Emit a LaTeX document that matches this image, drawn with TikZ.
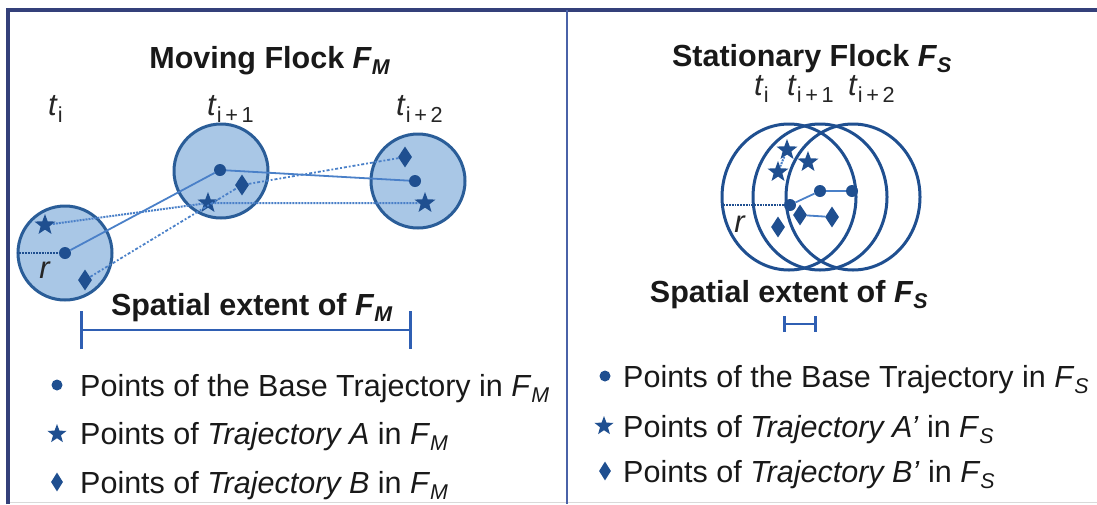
\documentclass[tikz,border=0pt]{standalone}
\usepackage{fontspec}
\setmainfont{Liberation Sans}
\usetikzlibrary{shapes.geometric,arrows.meta}
\definecolor{framecol}{RGB}{52,64,122}
\definecolor{divcol}{RGB}{74,98,168}
\definecolor{fillcol}{RGB}{169,199,230}
\definecolor{ringcol}{RGB}{42,93,152}
\definecolor{markcol}{RGB}{31,79,144}
\definecolor{trajcol}{RGB}{74,128,200}
\definecolor{extcol}{RGB}{47,95,179}
\newcommand\flocksub[2]{\textit{#1}\textsubscript{\textit{#2}}}
\newcommand\tlab[1]{\textit{t}\textsubscript{#1}}
\tikzset{
  flock/.style={circle, draw=ringcol, line width=3pt, fill=fillcol, minimum size=94pt, inner sep=0},
  ring/.style={ellipse, draw=markcol, line width=3pt, minimum width=134pt, minimum height=146pt, inner sep=0},
  basept/.style={circle, fill=markcol, inner sep=0, minimum size=12pt},
  starpt/.style={star, star points=5, star point ratio=2.4, fill=markcol, inner sep=0, minimum size=22pt},
  diapt/.style={diamond, fill=markcol, inner sep=0, minimum width=14pt, minimum height=21pt},
  basepath/.style={draw=trajcol, line width=1.8pt},
  Apath/.style={draw=trajcol, line width=2pt, densely dotted},
  Bpath/.style={draw=trajcol, line width=1.8pt, dash dot},
  rline/.style={draw=markcol, line width=1.8pt, densely dotted},
  extent/.style={draw=extcol, line width=2.8pt},
  title/.style={font=\fontsize{30.5}{34}\selectfont\bfseries, text=black!90, inner sep=0},
  tname/.style={font=\fontsize{31}{34}\selectfont, text=black!85, inner sep=0},
  legtext/.style={font=\fontsize{30.5}{34}\selectfont, text=black!90, inner sep=0, anchor=base west}
}
\begin{document}
\begin{tikzpicture}[x=1pt,y=-1pt]
  \useasboundingbox (0,0) rectangle (1097,504);
  % frame
  \draw[black!15, line width=1pt] (8,502) -- (1097,502);
  \draw[framecol, line width=3.5pt] (8,504) -- (8,10) -- (1097,10);
  \draw[divcol, line width=2pt] (567,10) -- (567,504);

  % moving flock
  \node[title, anchor=base] (movtitle) at (270,68) {Moving Flock \flocksub{F}{M}};
  \node[tname, anchor=base west] (tm1) at (48,115) {\tlab{i}};
  \node[tname, anchor=base west] (tm2) at (207,115) {\tlab{i\,+\,1}};
  \node[tname, anchor=base west] (tm3) at (396,115) {\tlab{i\,+\,2}};
  \node[flock] (flock1) at (65,253) {};
  \node[flock] (flock2) at (221,171) {};
  \node[flock] (flock3) at (418,181) {};
  \node[basept] (base1) at (65,253) {};
  \node[basept] (base2) at (220,170) {};
  \node[basept] (base3) at (415,181) {};
  \node[starpt] (starA1) at (45,225) {};
  \node[starpt] (starA2) at (208,203) {};
  \node[starpt] (starA3) at (425,203) {};
  \node[diapt] (diaB1) at (85,280) {};
  \node[diapt] (diaB2) at (242,185) {};
  \node[diapt] (diaB3) at (405,157) {};
  \draw[basepath] (base1) -- (base2) -- (base3);
  \draw[Apath] (starA1) -- (starA2) -- (starA3);
  \draw[Bpath] (diaB1) -- (diaB2) -- (diaB3);
  \coordinate (rM) at (flock1.west |- base1);
  \draw[rline] (rM) -- (base1);
  \node[tname] (rm) at (45,270) {\textit{r}};
  \node[title, anchor=base] (movext) at (252,315) {Spatial extent of \flocksub{F}{M}};
  \coordinate (extL1) at (80,330);
  \coordinate (extR1) at (412,330);
  \draw[extent, {Bar[width=38pt]}-{Bar[width=38pt]}] (extL1) -- (extR1);

  % legend, moving
  \node[basept, minimum size=11pt] (legBase1) at (57,385) {};
  \node[starpt, minimum size=20pt] (legA1) at (57,434) {};
  \node[diapt, minimum width=12pt, minimum height=19pt] (legB1) at (57,482) {};
  \node[legtext] (legBaseTxt1) at (80,396) {Points of the Base Trajectory in \flocksub{F}{M}};
  \node[legtext] (legATxt1) at (80,444) {Points of \textit{Trajectory A} in \flocksub{F}{M}};
  \node[legtext] (legBTxt1) at (80,493) {Points of \textit{Trajectory B} in \flocksub{F}{M}};

  % stationary flock
  \node[title, anchor=base] (stattitle) at (812,66) {Stationary Flock \flocksub{F}{S}};
  \node[tname, anchor=base west] (ts1) at (754,95) {\tlab{i}};
  \node[tname, anchor=base west] (ts2) at (787,95) {\tlab{i\,+\,1}};
  \node[tname, anchor=base west] (ts3) at (848,95) {\tlab{i\,+\,2}};
  \node[ring] (stat1) at (789,197) {};
  \node[ring] (stat2) at (820,197) {};
  \node[ring] (stat3) at (853,197) {};
  \node[starpt] (starS1) at (787,150) {};
  \node[starpt] (starS2) at (778,172) {};
  \node[starpt] (starS3) at (808,162) {};
  \node[basept] (baseS1) at (790,205) {};
  \node[basept] (baseS2) at (820,191) {};
  \node[basept] (baseS3) at (852,191) {};
  \node[diapt] (diaS1) at (778,227) {};
  \node[diapt] (diaS2) at (800,215) {};
  \node[diapt] (diaS3) at (832,217) {};
  \draw[basepath] (baseS1) -- (baseS2) -- (baseS3);
  \draw[Apath] (starS1) -- (starS2);
  \draw[basepath] (diaS2) -- (diaS3);
  \coordinate (rS) at (stat1.west |- baseS1);
  \draw[rline] (rS) -- (baseS1);
  \node[tname] (rs) at (740,224) {\textit{r}};
  \node[title, anchor=base] (statext) at (789,302) {Spatial extent of \flocksub{F}{S}};
  \coordinate (extL2) at (783,324);
  \coordinate (extR2) at (817,324);
  \draw[extent, {Bar[width=16pt]}-{Bar[width=16pt]}] (extL2) -- (extR2);

  % legend, stationary
  \node[basept, minimum size=11pt] (legBase2) at (605,376) {};
  \node[starpt, minimum size=20pt] (legA2) at (604,426) {};
  \node[diapt, minimum width=12pt, minimum height=19pt] (legB2) at (605,471) {};
  \node[legtext] (legBaseTxt2) at (623,387) {Points of the Base Trajectory in \flocksub{F}{S}};
  \node[legtext] (legATxt2) at (623,437) {Points of \textit{Trajectory A’} in \flocksub{F}{S}};
  \node[legtext] (legBTxt2) at (623,482) {Points of \textit{Trajectory B’} in \flocksub{F}{S}};
\end{tikzpicture}
\end{document}
